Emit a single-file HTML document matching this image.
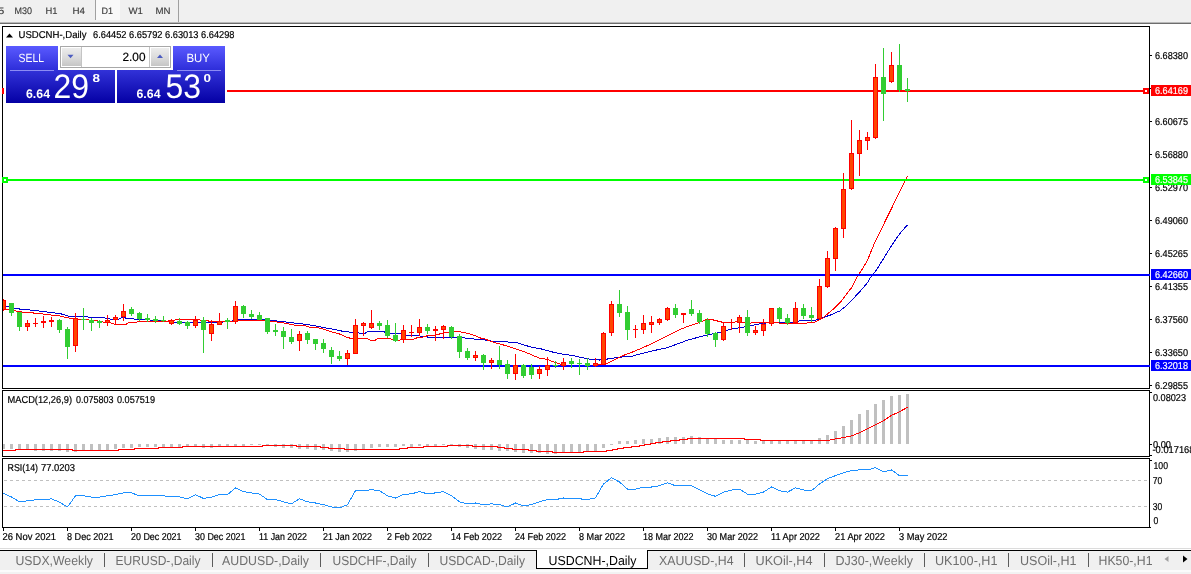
<!DOCTYPE html>
<html lang="en"><head><meta charset="utf-8"><title>USDCNH-,Daily</title>
<style>
html,body{margin:0;padding:0;background:#fff;overflow:hidden}
svg{display:block}
text{font-family:"Liberation Sans",sans-serif;font-size:10px;fill:#000;stroke:#000;stroke-width:0.2px;text-rendering:geometricPrecision}
.tb{fill:#3c3c3c;stroke:#3c3c3c;stroke-width:0.15px;font-size:9.5px}
.tab{font-size:13px;fill:#6e6e6e;stroke:none}
.w{fill:#fff;stroke:#fff}
</style></head><body>
<svg width="1191" height="574" viewBox="0 0 1191 574">
<defs><linearGradient id="gTab" x1="0" y1="0" x2="0" y2="1"><stop offset="0" stop-color="#5a5aff"/><stop offset="1" stop-color="#2c2cd8"/></linearGradient><linearGradient id="gPan" x1="0" y1="0" x2="0" y2="1"><stop offset="0" stop-color="#3232d8"/><stop offset="1" stop-color="#0400a4"/></linearGradient><linearGradient id="gBtn" x1="0" y1="0" x2="0" y2="1"><stop offset="0" stop-color="#ececec"/><stop offset="0.5" stop-color="#dcdcdc"/><stop offset="1" stop-color="#c6c6c6"/></linearGradient><clipPath id="cm"><rect x="3" y="27" width="1146" height="361"/></clipPath></defs>
<rect x="0" y="0" width="1191" height="574" fill="#fff"/>
<g shape-rendering="crispEdges">
<rect x="0" y="0" width="1191" height="22" fill="#f0f0f0"/>
<rect x="0" y="22" width="1191" height="1" fill="#b9b9b9"/>
<rect x="0" y="23" width="1191" height="1" fill="#6d6d6d"/>
<rect x="96" y="0" width="24" height="20" fill="#f9f9f9"/>
<rect x="95" y="0" width="1" height="20" fill="#a0a0a0"/>
<rect x="178" y="0" width="1" height="22" fill="#a0a0a0"/>
</g>
<text x="-1.8" y="14" class="tb" textLength="6" lengthAdjust="spacingAndGlyphs">5</text>
<text x="14.5" y="14" class="tb" textLength="17.5" lengthAdjust="spacingAndGlyphs">M30</text>
<text x="45.5" y="14" class="tb" textLength="12" lengthAdjust="spacingAndGlyphs">H1</text>
<text x="72.5" y="14" class="tb" textLength="12.5" lengthAdjust="spacingAndGlyphs">H4</text>
<text x="101.5" y="14" class="tb" textLength="11.5" lengthAdjust="spacingAndGlyphs">D1</text>
<text x="128.5" y="14" class="tb" textLength="14.5" lengthAdjust="spacingAndGlyphs">W1</text>
<text x="155.5" y="14" class="tb" textLength="15" lengthAdjust="spacingAndGlyphs">MN</text>
<g shape-rendering="crispEdges">
<rect x="2" y="26" width="1148" height="1" fill="#000"/>
<rect x="2" y="388" width="1148" height="1" fill="#000"/>
<rect x="2" y="26" width="1" height="363" fill="#000"/>
<rect x="1149" y="26" width="1" height="363" fill="#000"/>
<rect x="2" y="390" width="1148" height="1" fill="#000"/>
<rect x="2" y="456" width="1148" height="1" fill="#000"/>
<rect x="2" y="390" width="1" height="67" fill="#000"/>
<rect x="1149" y="390" width="1" height="67" fill="#000"/>
<rect x="2" y="458" width="1148" height="1" fill="#000"/>
<rect x="2" y="527" width="1148" height="1" fill="#000"/>
<rect x="2" y="458" width="1" height="70" fill="#000"/>
<rect x="1149" y="458" width="1" height="70" fill="#000"/>
<rect x="1150" y="55" width="2" height="1" fill="#000"/>
<rect x="1150" y="88" width="2" height="1" fill="#000"/>
<rect x="1150" y="121" width="2" height="1" fill="#000"/>
<rect x="1150" y="154" width="2" height="1" fill="#000"/>
<rect x="1150" y="187" width="2" height="1" fill="#000"/>
<rect x="1150" y="220" width="2" height="1" fill="#000"/>
<rect x="1150" y="253" width="2" height="1" fill="#000"/>
<rect x="1150" y="286" width="2" height="1" fill="#000"/>
<rect x="1150" y="319" width="2" height="1" fill="#000"/>
<rect x="1150" y="352" width="2" height="1" fill="#000"/>
<rect x="1150" y="385" width="2" height="1" fill="#000"/>
<rect x="1150" y="392" width="2" height="1" fill="#000"/>
<rect x="1150" y="444" width="2" height="1" fill="#000"/>
<rect x="1150" y="455" width="2" height="1" fill="#000"/>
<rect x="1150" y="460" width="2" height="1" fill="#000"/>
<rect x="1150" y="527" width="1" height="1" fill="#000"/>
<rect x="3" y="528" width="1" height="3" fill="#000"/>
<rect x="67" y="528" width="1" height="3" fill="#000"/>
<rect x="131" y="528" width="1" height="3" fill="#000"/>
<rect x="195" y="528" width="1" height="3" fill="#000"/>
<rect x="259" y="528" width="1" height="3" fill="#000"/>
<rect x="323" y="528" width="1" height="3" fill="#000"/>
<rect x="387" y="528" width="1" height="3" fill="#000"/>
<rect x="451" y="528" width="1" height="3" fill="#000"/>
<rect x="515" y="528" width="1" height="3" fill="#000"/>
<rect x="579" y="528" width="1" height="3" fill="#000"/>
<rect x="643" y="528" width="1" height="3" fill="#000"/>
<rect x="707" y="528" width="1" height="3" fill="#000"/>
<rect x="771" y="528" width="1" height="3" fill="#000"/>
<rect x="835" y="528" width="1" height="3" fill="#000"/>
<rect x="899" y="528" width="1" height="3" fill="#000"/>
</g>
<g shape-rendering="crispEdges" clip-path="url(#cm)">
<polyline fill="none" stroke="#0000d0" stroke-width="1" points="3.5,305.5 11.5,307.5 20.5,309.2 28.5,309.9 36.5,310.7 44.5,311.7 52.5,312.7 60.5,313.7 68.0,316.0 75.5,316.7 87.5,317.0 104.0,317.9 110.5,319.1 118.5,319.1 122.5,317.3 127.5,318.5 135.0,319.1 145.0,319.8 159.5,320.4 166.1,321.0 176.1,322.6 184.5,322.9 197.5,322.6 203.5,323.1 222.5,322.2 225.5,321.6 232.5,321.0 237.5,319.7 265.1,319.7 270.1,320.4 280.0,321.3 287.5,322.2 294.9,323.1 303.5,324.1 312.5,325.3 319.8,326.8 328.5,328.4 337.2,330.0 343.5,331.5 348.5,332.0 352.5,332.1 359.1,333.0 365.5,333.0 367.5,331.8 384.0,331.8 387.5,333.6 400.1,333.9 407.5,335.5 422.5,336.1 427.5,337.0 462.3,337.0 464.5,338.0 472.2,338.8 480.5,339.8 486.5,340.1 492.9,341.3 504.1,341.3 509.1,342.3 516.5,342.3 524.0,345.1 532.5,347.3 542.5,349.2 552.5,352.0 562.5,354.1 573.5,355.7 583.5,357.9 592.5,359.7 599.5,360.0 604.5,359.5 612.5,358.2 619.5,357.2 628.5,356.6 631.5,356.3 650.2,351.4 667.5,347.6 687.5,340.2 703.5,335.8 718.5,332.7 732.2,329.0 743.5,327.1 748.5,325.9 752.9,325.2 762.9,323.3 775.3,322.1 781.5,322.9 790.2,322.7 800.1,320.8 815.1,320.2 822.5,317.7 830.0,315.2 839.9,310.9 846.1,305.9 852.3,299.7 859.8,291.6 867.3,282.9 871.0,276.7 875.3,271.7 882.5,260.2 892.5,244.1 899.9,233.5 907.5,224.8"/>
<polyline fill="none" stroke="#ff0000" stroke-width="1" points="3.5,308.7 11.5,310.2 20.5,311.9 28.5,312.7 36.5,313.2 44.5,314.2 52.5,315.2 60.5,316.1 68.0,317.9 75.5,319.1 87.5,319.8 97.5,321.0 104.0,322.2 110.5,322.9 113.9,324.1 126.5,324.1 128.2,322.9 135.0,322.6 137.5,321.9 166.1,321.9 168.5,321.0 176.1,319.8 199.5,319.8 200.9,320.4 208.5,321.0 225.5,321.0 232.5,321.6 237.5,320.4 265.1,321.0 270.1,321.6 280.0,322.2 287.5,323.8 294.9,325.1 303.5,325.3 309.9,327.2 319.8,328.1 328.5,330.9 337.2,333.4 341.5,334.5 346.5,337.4 352.5,338.6 357.5,338.8 367.5,338.8 370.5,340.1 375.5,340.1 377.5,338.8 390.5,338.8 393.9,340.5 398.9,340.5 402.5,339.2 413.5,339.2 416.5,338.0 422.5,337.4 425.0,336.1 434.9,335.5 439.9,333.9 447.5,332.1 459.5,331.8 464.5,332.6 472.2,334.6 480.5,338.0 485.5,339.2 492.9,342.1 500.5,344.2 507.5,346.1 516.5,349.2 524.0,351.6 531.5,354.8 538.9,357.9 547.5,359.5 552.5,361.6 560.0,364.1 567.5,365.3 574.5,365.9 603.5,364.7 607.3,363.5 612.2,361.0 617.2,358.5 623.5,355.4 628.5,353.5 634.1,351.4 651.5,343.9 666.4,336.5 682.5,328.4 699.9,322.2 707.4,319.1 712.3,319.7 722.3,322.2 732.2,322.8 737.2,321.5 743.5,322.2 748.5,323.1 761.5,322.7 770.3,322.1 776.5,322.5 784.0,323.9 792.5,323.3 812.5,322.9 817.5,320.8 822.5,318.3 827.5,314.0 833.5,309.0 839.9,302.8 846.1,294.7 852.3,286.7 857.3,276.7 861.0,271.1 867.5,260.2 875.1,241.5 882.5,226.7 890.5,210.5 907.5,175.7"/>
<rect x="3" y="90" width="1147" height="2" fill="#ff0000"/>
<rect x="3" y="179" width="1147" height="2" fill="#00ff00"/>
<rect x="3" y="274" width="1148" height="2" fill="#0000ff"/>
<rect x="3" y="365" width="1148" height="2" fill="#0000ff"/>
<rect x="3" y="299" width="1" height="12" fill="#ff0000"/>
<rect x="1" y="300" width="5" height="10" fill="#ff0000"/>
<rect x="2" y="301" width="3" height="8" fill="#ff4500"/>
<rect x="11" y="303" width="1" height="13" fill="#32cd32"/>
<rect x="9" y="303" width="5" height="10" fill="#32cd32"/>
<rect x="19" y="312" width="1" height="19" fill="#32cd32"/>
<rect x="17" y="312" width="5" height="15" fill="#32cd32"/>
<rect x="27" y="320" width="1" height="11" fill="#ff0000"/>
<rect x="25" y="323" width="5" height="4" fill="#ff0000"/>
<rect x="26" y="324" width="3" height="2" fill="#ff4500"/>
<rect x="35" y="318" width="1" height="9" fill="#ff0000"/>
<rect x="33" y="323" width="5" height="1" fill="#ff0000"/>
<rect x="43" y="316" width="1" height="12" fill="#ff0000"/>
<rect x="41" y="321" width="5" height="2" fill="#ff0000"/>
<rect x="51" y="317" width="1" height="10" fill="#ff0000"/>
<rect x="49" y="320" width="5" height="2" fill="#ff0000"/>
<rect x="59" y="319" width="1" height="14" fill="#32cd32"/>
<rect x="57" y="320" width="5" height="10" fill="#32cd32"/>
<rect x="67" y="327" width="1" height="32" fill="#32cd32"/>
<rect x="65" y="329" width="5" height="18" fill="#32cd32"/>
<rect x="75" y="313" width="1" height="39" fill="#ff0000"/>
<rect x="73" y="318" width="5" height="28" fill="#ff0000"/>
<rect x="74" y="319" width="3" height="26" fill="#ff4500"/>
<rect x="83" y="308" width="1" height="22" fill="#32cd32"/>
<rect x="81" y="319" width="5" height="1" fill="#32cd32"/>
<rect x="91" y="318" width="1" height="13" fill="#32cd32"/>
<rect x="89" y="320" width="5" height="3" fill="#32cd32"/>
<rect x="99" y="320" width="1" height="8" fill="#32cd32"/>
<rect x="97" y="321" width="5" height="2" fill="#32cd32"/>
<rect x="107" y="315" width="1" height="11" fill="#ff0000"/>
<rect x="105" y="320" width="5" height="3" fill="#ff0000"/>
<rect x="106" y="321" width="3" height="1" fill="#ff4500"/>
<rect x="115" y="315" width="1" height="10" fill="#ff0000"/>
<rect x="113" y="317" width="5" height="3" fill="#ff0000"/>
<rect x="114" y="318" width="3" height="1" fill="#ff4500"/>
<rect x="123" y="304" width="1" height="17" fill="#ff0000"/>
<rect x="121" y="311" width="5" height="6" fill="#ff0000"/>
<rect x="122" y="312" width="3" height="4" fill="#ff4500"/>
<rect x="131" y="307" width="1" height="9" fill="#32cd32"/>
<rect x="129" y="309" width="5" height="5" fill="#32cd32"/>
<rect x="139" y="312" width="1" height="9" fill="#32cd32"/>
<rect x="137" y="313" width="5" height="6" fill="#32cd32"/>
<rect x="147" y="314" width="1" height="8" fill="#32cd32"/>
<rect x="145" y="318" width="5" height="2" fill="#32cd32"/>
<rect x="155" y="316" width="1" height="7" fill="#32cd32"/>
<rect x="153" y="319" width="5" height="2" fill="#32cd32"/>
<rect x="163" y="316" width="1" height="6" fill="#32cd32"/>
<rect x="161" y="320" width="5" height="1" fill="#32cd32"/>
<rect x="171" y="319" width="1" height="6" fill="#ff0000"/>
<rect x="169" y="320" width="5" height="4" fill="#ff0000"/>
<rect x="170" y="321" width="3" height="2" fill="#ff4500"/>
<rect x="179" y="318" width="1" height="7" fill="#32cd32"/>
<rect x="177" y="321" width="5" height="3" fill="#32cd32"/>
<rect x="187" y="321" width="1" height="8" fill="#32cd32"/>
<rect x="185" y="322" width="5" height="4" fill="#32cd32"/>
<rect x="195" y="316" width="1" height="12" fill="#ff0000"/>
<rect x="193" y="320" width="5" height="6" fill="#ff0000"/>
<rect x="194" y="321" width="3" height="4" fill="#ff4500"/>
<rect x="203" y="317" width="1" height="36" fill="#32cd32"/>
<rect x="201" y="320" width="5" height="10" fill="#32cd32"/>
<rect x="211" y="320" width="1" height="21" fill="#ff0000"/>
<rect x="209" y="324" width="5" height="10" fill="#ff0000"/>
<rect x="210" y="325" width="3" height="8" fill="#ff4500"/>
<rect x="219" y="313" width="1" height="12" fill="#ff0000"/>
<rect x="217" y="321" width="5" height="4" fill="#ff0000"/>
<rect x="218" y="322" width="3" height="2" fill="#ff4500"/>
<rect x="227" y="318" width="1" height="11" fill="#32cd32"/>
<rect x="225" y="320" width="5" height="2" fill="#32cd32"/>
<rect x="235" y="301" width="1" height="23" fill="#ff0000"/>
<rect x="233" y="306" width="5" height="16" fill="#ff0000"/>
<rect x="234" y="307" width="3" height="14" fill="#ff4500"/>
<rect x="243" y="305" width="1" height="13" fill="#32cd32"/>
<rect x="241" y="306" width="5" height="8" fill="#32cd32"/>
<rect x="251" y="310" width="1" height="9" fill="#32cd32"/>
<rect x="249" y="314" width="5" height="3" fill="#32cd32"/>
<rect x="259" y="312" width="1" height="8" fill="#32cd32"/>
<rect x="257" y="315" width="5" height="5" fill="#32cd32"/>
<rect x="267" y="318" width="1" height="16" fill="#32cd32"/>
<rect x="265" y="318" width="5" height="14" fill="#32cd32"/>
<rect x="275" y="324" width="1" height="12" fill="#32cd32"/>
<rect x="273" y="330" width="5" height="2" fill="#32cd32"/>
<rect x="283" y="327" width="1" height="22" fill="#32cd32"/>
<rect x="281" y="331" width="5" height="6" fill="#32cd32"/>
<rect x="291" y="329" width="1" height="15" fill="#32cd32"/>
<rect x="289" y="337" width="5" height="5" fill="#32cd32"/>
<rect x="299" y="331" width="1" height="20" fill="#ff0000"/>
<rect x="297" y="334" width="5" height="7" fill="#ff0000"/>
<rect x="298" y="335" width="3" height="5" fill="#ff4500"/>
<rect x="307" y="331" width="1" height="13" fill="#32cd32"/>
<rect x="305" y="333" width="5" height="7" fill="#32cd32"/>
<rect x="315" y="339" width="1" height="11" fill="#32cd32"/>
<rect x="313" y="339" width="5" height="5" fill="#32cd32"/>
<rect x="323" y="339" width="1" height="14" fill="#32cd32"/>
<rect x="321" y="343" width="5" height="6" fill="#32cd32"/>
<rect x="331" y="347" width="1" height="17" fill="#32cd32"/>
<rect x="329" y="350" width="5" height="7" fill="#32cd32"/>
<rect x="339" y="351" width="1" height="10" fill="#32cd32"/>
<rect x="337" y="356" width="5" height="3" fill="#32cd32"/>
<rect x="347" y="350" width="1" height="15" fill="#ff0000"/>
<rect x="345" y="353" width="5" height="6" fill="#ff0000"/>
<rect x="346" y="354" width="3" height="4" fill="#ff4500"/>
<rect x="355" y="319" width="1" height="35" fill="#ff0000"/>
<rect x="353" y="325" width="5" height="29" fill="#ff0000"/>
<rect x="354" y="326" width="3" height="27" fill="#ff4500"/>
<rect x="363" y="322" width="1" height="14" fill="#ff0000"/>
<rect x="361" y="323" width="5" height="3" fill="#ff0000"/>
<rect x="362" y="324" width="3" height="1" fill="#ff4500"/>
<rect x="371" y="310" width="1" height="19" fill="#ff0000"/>
<rect x="369" y="323" width="5" height="5" fill="#ff0000"/>
<rect x="370" y="324" width="3" height="3" fill="#ff4500"/>
<rect x="379" y="321" width="1" height="9" fill="#32cd32"/>
<rect x="377" y="323" width="5" height="3" fill="#32cd32"/>
<rect x="387" y="320" width="1" height="18" fill="#32cd32"/>
<rect x="385" y="325" width="5" height="11" fill="#32cd32"/>
<rect x="395" y="323" width="1" height="19" fill="#32cd32"/>
<rect x="393" y="335" width="5" height="6" fill="#32cd32"/>
<rect x="403" y="325" width="1" height="18" fill="#ff0000"/>
<rect x="401" y="330" width="5" height="10" fill="#ff0000"/>
<rect x="402" y="331" width="3" height="8" fill="#ff4500"/>
<rect x="411" y="325" width="1" height="12" fill="#ff0000"/>
<rect x="409" y="332" width="5" height="1" fill="#ff0000"/>
<rect x="419" y="319" width="1" height="17" fill="#ff0000"/>
<rect x="417" y="327" width="5" height="6" fill="#ff0000"/>
<rect x="418" y="328" width="3" height="4" fill="#ff4500"/>
<rect x="427" y="324" width="1" height="10" fill="#32cd32"/>
<rect x="425" y="327" width="5" height="4" fill="#32cd32"/>
<rect x="435" y="326" width="1" height="15" fill="#ff0000"/>
<rect x="433" y="329" width="5" height="2" fill="#ff0000"/>
<rect x="443" y="325" width="1" height="14" fill="#ff0000"/>
<rect x="441" y="326" width="5" height="4" fill="#ff0000"/>
<rect x="442" y="327" width="3" height="2" fill="#ff4500"/>
<rect x="451" y="326" width="1" height="13" fill="#32cd32"/>
<rect x="449" y="327" width="5" height="10" fill="#32cd32"/>
<rect x="459" y="334" width="1" height="24" fill="#32cd32"/>
<rect x="457" y="336" width="5" height="16" fill="#32cd32"/>
<rect x="467" y="348" width="1" height="12" fill="#32cd32"/>
<rect x="465" y="351" width="5" height="7" fill="#32cd32"/>
<rect x="475" y="351" width="1" height="10" fill="#ff0000"/>
<rect x="473" y="355" width="5" height="3" fill="#ff0000"/>
<rect x="474" y="356" width="3" height="1" fill="#ff4500"/>
<rect x="483" y="354" width="1" height="16" fill="#32cd32"/>
<rect x="481" y="355" width="5" height="8" fill="#32cd32"/>
<rect x="491" y="358" width="1" height="11" fill="#ff0000"/>
<rect x="489" y="360" width="5" height="3" fill="#ff0000"/>
<rect x="490" y="361" width="3" height="1" fill="#ff4500"/>
<rect x="499" y="346" width="1" height="23" fill="#32cd32"/>
<rect x="497" y="360" width="5" height="5" fill="#32cd32"/>
<rect x="507" y="360" width="1" height="19" fill="#32cd32"/>
<rect x="505" y="364" width="5" height="10" fill="#32cd32"/>
<rect x="515" y="354" width="1" height="26" fill="#ff0000"/>
<rect x="513" y="365" width="5" height="9" fill="#ff0000"/>
<rect x="514" y="366" width="3" height="7" fill="#ff4500"/>
<rect x="523" y="364" width="1" height="14" fill="#32cd32"/>
<rect x="521" y="365" width="5" height="11" fill="#32cd32"/>
<rect x="531" y="364" width="1" height="15" fill="#32cd32"/>
<rect x="529" y="367" width="5" height="8" fill="#32cd32"/>
<rect x="539" y="366" width="1" height="13" fill="#ff0000"/>
<rect x="537" y="369" width="5" height="5" fill="#ff0000"/>
<rect x="538" y="370" width="3" height="3" fill="#ff4500"/>
<rect x="547" y="357" width="1" height="19" fill="#ff0000"/>
<rect x="545" y="365" width="5" height="5" fill="#ff0000"/>
<rect x="546" y="366" width="3" height="3" fill="#ff4500"/>
<rect x="555" y="361" width="1" height="7" fill="#32cd32"/>
<rect x="553" y="365" width="5" height="1" fill="#32cd32"/>
<rect x="563" y="358" width="1" height="12" fill="#ff0000"/>
<rect x="561" y="362" width="5" height="4" fill="#ff0000"/>
<rect x="562" y="363" width="3" height="2" fill="#ff4500"/>
<rect x="571" y="358" width="1" height="10" fill="#32cd32"/>
<rect x="569" y="361" width="5" height="3" fill="#32cd32"/>
<rect x="579" y="359" width="1" height="16" fill="#32cd32"/>
<rect x="577" y="363" width="5" height="1" fill="#32cd32"/>
<rect x="587" y="358" width="1" height="12" fill="#32cd32"/>
<rect x="585" y="363" width="5" height="3" fill="#32cd32"/>
<rect x="595" y="358" width="1" height="9" fill="#ff0000"/>
<rect x="593" y="363" width="5" height="3" fill="#ff0000"/>
<rect x="594" y="364" width="3" height="1" fill="#ff4500"/>
<rect x="603" y="332" width="1" height="33" fill="#ff0000"/>
<rect x="601" y="333" width="5" height="32" fill="#ff0000"/>
<rect x="602" y="334" width="3" height="30" fill="#ff4500"/>
<rect x="611" y="301" width="1" height="35" fill="#ff0000"/>
<rect x="609" y="304" width="5" height="29" fill="#ff0000"/>
<rect x="610" y="305" width="3" height="27" fill="#ff4500"/>
<rect x="619" y="290" width="1" height="27" fill="#32cd32"/>
<rect x="617" y="304" width="5" height="9" fill="#32cd32"/>
<rect x="627" y="306" width="1" height="34" fill="#32cd32"/>
<rect x="625" y="312" width="5" height="18" fill="#32cd32"/>
<rect x="635" y="325" width="1" height="13" fill="#ff0000"/>
<rect x="633" y="329" width="5" height="1" fill="#ff0000"/>
<rect x="643" y="315" width="1" height="19" fill="#ff0000"/>
<rect x="641" y="323" width="5" height="7" fill="#ff0000"/>
<rect x="642" y="324" width="3" height="5" fill="#ff4500"/>
<rect x="651" y="316" width="1" height="17" fill="#ff0000"/>
<rect x="649" y="322" width="5" height="3" fill="#ff0000"/>
<rect x="650" y="323" width="3" height="1" fill="#ff4500"/>
<rect x="659" y="318" width="1" height="7" fill="#ff0000"/>
<rect x="657" y="319" width="5" height="4" fill="#ff0000"/>
<rect x="658" y="320" width="3" height="2" fill="#ff4500"/>
<rect x="667" y="307" width="1" height="14" fill="#ff0000"/>
<rect x="665" y="308" width="5" height="12" fill="#ff0000"/>
<rect x="666" y="309" width="3" height="10" fill="#ff4500"/>
<rect x="675" y="304" width="1" height="14" fill="#32cd32"/>
<rect x="673" y="308" width="5" height="7" fill="#32cd32"/>
<rect x="683" y="313" width="1" height="10" fill="#ff0000"/>
<rect x="681" y="313" width="5" height="2" fill="#ff0000"/>
<rect x="691" y="300" width="1" height="16" fill="#32cd32"/>
<rect x="689" y="309" width="5" height="5" fill="#32cd32"/>
<rect x="699" y="310" width="1" height="14" fill="#32cd32"/>
<rect x="697" y="313" width="5" height="9" fill="#32cd32"/>
<rect x="707" y="318" width="1" height="19" fill="#32cd32"/>
<rect x="705" y="320" width="5" height="14" fill="#32cd32"/>
<rect x="715" y="332" width="1" height="15" fill="#32cd32"/>
<rect x="713" y="333" width="5" height="7" fill="#32cd32"/>
<rect x="723" y="322" width="1" height="19" fill="#ff0000"/>
<rect x="721" y="326" width="5" height="14" fill="#ff0000"/>
<rect x="722" y="327" width="3" height="12" fill="#ff4500"/>
<rect x="731" y="319" width="1" height="11" fill="#ff0000"/>
<rect x="729" y="322" width="5" height="1" fill="#ff0000"/>
<rect x="739" y="315" width="1" height="18" fill="#ff0000"/>
<rect x="737" y="317" width="5" height="6" fill="#ff0000"/>
<rect x="738" y="318" width="3" height="4" fill="#ff4500"/>
<rect x="747" y="310" width="1" height="26" fill="#32cd32"/>
<rect x="745" y="317" width="5" height="16" fill="#32cd32"/>
<rect x="755" y="326" width="1" height="9" fill="#ff0000"/>
<rect x="753" y="330" width="5" height="3" fill="#ff0000"/>
<rect x="754" y="331" width="3" height="1" fill="#ff4500"/>
<rect x="763" y="319" width="1" height="17" fill="#ff0000"/>
<rect x="761" y="324" width="5" height="7" fill="#ff0000"/>
<rect x="762" y="325" width="3" height="5" fill="#ff4500"/>
<rect x="771" y="308" width="1" height="18" fill="#ff0000"/>
<rect x="769" y="308" width="5" height="16" fill="#ff0000"/>
<rect x="770" y="309" width="3" height="14" fill="#ff4500"/>
<rect x="779" y="307" width="1" height="15" fill="#32cd32"/>
<rect x="777" y="308" width="5" height="11" fill="#32cd32"/>
<rect x="787" y="314" width="1" height="11" fill="#32cd32"/>
<rect x="785" y="318" width="5" height="5" fill="#32cd32"/>
<rect x="795" y="302" width="1" height="22" fill="#ff0000"/>
<rect x="793" y="308" width="5" height="15" fill="#ff0000"/>
<rect x="794" y="309" width="3" height="13" fill="#ff4500"/>
<rect x="803" y="304" width="1" height="15" fill="#32cd32"/>
<rect x="801" y="308" width="5" height="8" fill="#32cd32"/>
<rect x="811" y="307" width="1" height="15" fill="#32cd32"/>
<rect x="809" y="315" width="5" height="3" fill="#32cd32"/>
<rect x="819" y="279" width="1" height="40" fill="#ff0000"/>
<rect x="817" y="286" width="5" height="33" fill="#ff0000"/>
<rect x="818" y="287" width="3" height="31" fill="#ff4500"/>
<rect x="827" y="251" width="1" height="37" fill="#ff0000"/>
<rect x="825" y="258" width="5" height="29" fill="#ff0000"/>
<rect x="826" y="259" width="3" height="27" fill="#ff4500"/>
<rect x="835" y="227" width="1" height="44" fill="#ff0000"/>
<rect x="833" y="228" width="5" height="31" fill="#ff0000"/>
<rect x="834" y="229" width="3" height="29" fill="#ff4500"/>
<rect x="843" y="173" width="1" height="65" fill="#ff0000"/>
<rect x="841" y="189" width="5" height="40" fill="#ff0000"/>
<rect x="842" y="190" width="3" height="38" fill="#ff4500"/>
<rect x="851" y="120" width="1" height="70" fill="#ff0000"/>
<rect x="849" y="153" width="5" height="36" fill="#ff0000"/>
<rect x="850" y="154" width="3" height="34" fill="#ff4500"/>
<rect x="859" y="130" width="1" height="46" fill="#ff0000"/>
<rect x="857" y="140" width="5" height="14" fill="#ff0000"/>
<rect x="858" y="141" width="3" height="12" fill="#ff4500"/>
<rect x="867" y="132" width="1" height="18" fill="#ff0000"/>
<rect x="865" y="137" width="5" height="4" fill="#ff0000"/>
<rect x="866" y="138" width="3" height="2" fill="#ff4500"/>
<rect x="875" y="64" width="1" height="75" fill="#ff0000"/>
<rect x="873" y="77" width="5" height="61" fill="#ff0000"/>
<rect x="874" y="78" width="3" height="59" fill="#ff4500"/>
<rect x="883" y="48" width="1" height="73" fill="#32cd32"/>
<rect x="881" y="77" width="5" height="17" fill="#32cd32"/>
<rect x="891" y="52" width="1" height="31" fill="#ff0000"/>
<rect x="889" y="65" width="5" height="17" fill="#ff0000"/>
<rect x="890" y="66" width="3" height="15" fill="#ff4500"/>
<rect x="899" y="44" width="1" height="48" fill="#32cd32"/>
<rect x="897" y="65" width="5" height="25" fill="#32cd32"/>
<rect x="907" y="78" width="1" height="24" fill="#32cd32"/>
<rect x="905" y="89" width="5" height="2" fill="#32cd32"/>
</g>
<g shape-rendering="crispEdges">
<rect x="1149" y="274" width="1" height="2" fill="#0000ff"/>
<rect x="1149" y="365" width="1" height="2" fill="#0000ff"/>
<rect x="2" y="88" width="6" height="6" fill="#ff0000"/>
<rect x="4" y="90" width="2" height="2" fill="#fff"/>
<rect x="1143" y="88" width="6" height="6" fill="#ff0000"/>
<rect x="1145" y="90" width="2" height="2" fill="#fff"/>
<rect x="2" y="177" width="6" height="6" fill="#00ff00"/>
<rect x="4" y="179" width="2" height="2" fill="#fff"/>
<rect x="1143" y="177" width="6" height="6" fill="#00ff00"/>
<rect x="1145" y="179" width="2" height="2" fill="#fff"/>
<rect x="1151" y="85" width="40" height="11" fill="#ff0000"/>
<rect x="1151" y="174" width="40" height="11" fill="#00ff00"/>
<rect x="1151" y="269" width="40" height="11" fill="#0000ff"/>
<rect x="1151" y="360" width="40" height="11" fill="#0000ff"/>
</g>
<text x="1155" y="191" textLength="33" lengthAdjust="spacingAndGlyphs">6.52970</text>
<text x="1155" y="290" textLength="33" lengthAdjust="spacingAndGlyphs">6.41355</text>
<g shape-rendering="crispEdges">
<rect x="1151" y="174" width="40" height="11" fill="#00ff00"/>
<rect x="1151" y="269" width="40" height="11" fill="#0000ff"/>
</g>
<text x="1155" y="59" textLength="33" lengthAdjust="spacingAndGlyphs">6.68380</text>
<text x="1155" y="125" textLength="33" lengthAdjust="spacingAndGlyphs">6.60675</text>
<text x="1155" y="158" textLength="33" lengthAdjust="spacingAndGlyphs">6.56880</text>
<text x="1155" y="224" textLength="33" lengthAdjust="spacingAndGlyphs">6.49060</text>
<text x="1155" y="257" textLength="33" lengthAdjust="spacingAndGlyphs">6.45265</text>
<text x="1155" y="323" textLength="33" lengthAdjust="spacingAndGlyphs">6.37560</text>
<text x="1155" y="356" textLength="33" lengthAdjust="spacingAndGlyphs">6.33650</text>
<text x="1155" y="389" textLength="33" lengthAdjust="spacingAndGlyphs">6.29855</text>
<text x="1155" y="94" class="w" textLength="33" lengthAdjust="spacingAndGlyphs">6.64169</text>
<text x="1155" y="183" class="w" textLength="33" lengthAdjust="spacingAndGlyphs">6.53845</text>
<text x="1155" y="278" class="w" textLength="33" lengthAdjust="spacingAndGlyphs">6.42660</text>
<text x="1155" y="369" class="w" textLength="33" lengthAdjust="spacingAndGlyphs">6.32018</text>
<g shape-rendering="crispEdges">
<rect x="4" y="44" width="223" height="60" fill="#fff"/>
<rect x="6" y="46" width="52" height="25" fill="url(#gTab)"/>
<rect x="173" y="46" width="52" height="25" fill="url(#gTab)"/>
<rect x="6" y="70" width="109" height="33" fill="url(#gPan)"/>
<rect x="117" y="70" width="108" height="33" fill="url(#gPan)"/>
<rect x="10" y="70" width="44" height="1" fill="#8c8cf4"/>
<rect x="177" y="70" width="44" height="1" fill="#8c8cf4"/>
<rect x="60" y="46" width="111" height="22" fill="#a8a8a8"/>
<rect x="61" y="47" width="109" height="20" fill="#fff"/>
<rect x="62" y="48" width="19" height="18" fill="url(#gBtn)"/>
<rect x="151" y="48" width="18" height="18" fill="url(#gBtn)"/>
<rect x="81" y="47" width="1" height="20" fill="#c4c4c4"/>
<rect x="149" y="47" width="1" height="20" fill="#c4c4c4"/>
</g>
<polygon points="67.5,54.7 73.5,54.7 70.5,58.2" fill="#4c5cc0"/><polygon points="157,58 163,58 160,54.5" fill="#4c5cc0"/>
<text x="18.5" y="62" class="w" textLength="25.5" lengthAdjust="spacingAndGlyphs" style="font-size:12px;stroke:none">SELL</text>
<text x="186.5" y="62" class="w" textLength="23.5" lengthAdjust="spacingAndGlyphs" style="font-size:12px;stroke:none">BUY</text>
<text x="122.5" y="61" textLength="23" lengthAdjust="spacingAndGlyphs" style="font-size:12px">2.00</text>
<text x="26" y="98" class="w" textLength="24" lengthAdjust="spacingAndGlyphs" style="font-size:12.5px;font-weight:bold;stroke:none">6.64</text>
<text x="136.5" y="98" class="w" textLength="24" lengthAdjust="spacingAndGlyphs" style="font-size:12.5px;font-weight:bold;stroke:none">6.64</text>
<text x="53.5" y="98" class="w" textLength="35.5" lengthAdjust="spacingAndGlyphs" style="font-size:34px;stroke:none">29</text>
<text x="165.5" y="98" class="w" textLength="35.5" lengthAdjust="spacingAndGlyphs" style="font-size:34px;stroke:none">53</text>
<text x="92.5" y="82" class="w" textLength="7.5" lengthAdjust="spacingAndGlyphs" style="font-size:11.5px;font-weight:bold;stroke:none">8</text>
<text x="203.5" y="82" class="w" textLength="7.5" lengthAdjust="spacingAndGlyphs" style="font-size:11.5px;font-weight:bold;stroke:none">0</text>
<polygon points="6,37.5 13,37.5 9.5,33.5" fill="#000"/>
<text x="18.5" y="38" textLength="68" lengthAdjust="spacingAndGlyphs">USDCNH-,Daily</text>
<text x="93" y="38" textLength="33.5" lengthAdjust="spacingAndGlyphs">6.64452</text>
<text x="129" y="38" textLength="33.5" lengthAdjust="spacingAndGlyphs">6.65792</text>
<text x="165" y="38" textLength="33.5" lengthAdjust="spacingAndGlyphs">6.63013</text>
<text x="201" y="38" textLength="33.5" lengthAdjust="spacingAndGlyphs">6.64298</text>
<g shape-rendering="crispEdges">
<rect x="3" y="444" width="2" height="5" fill="#c0c0c0"/>
<rect x="10" y="444" width="3" height="5" fill="#c0c0c0"/>
<rect x="18" y="444" width="3" height="6" fill="#c0c0c0"/>
<rect x="26" y="444" width="3" height="6" fill="#c0c0c0"/>
<rect x="34" y="444" width="3" height="7" fill="#c0c0c0"/>
<rect x="42" y="444" width="3" height="7" fill="#c0c0c0"/>
<rect x="50" y="444" width="3" height="7" fill="#c0c0c0"/>
<rect x="58" y="444" width="3" height="7" fill="#c0c0c0"/>
<rect x="66" y="444" width="3" height="8" fill="#c0c0c0"/>
<rect x="74" y="444" width="3" height="8" fill="#c0c0c0"/>
<rect x="82" y="444" width="3" height="7" fill="#c0c0c0"/>
<rect x="90" y="444" width="3" height="7" fill="#c0c0c0"/>
<rect x="98" y="444" width="3" height="7" fill="#c0c0c0"/>
<rect x="106" y="444" width="3" height="6" fill="#c0c0c0"/>
<rect x="114" y="444" width="3" height="5" fill="#c0c0c0"/>
<rect x="122" y="444" width="3" height="4" fill="#c0c0c0"/>
<rect x="130" y="444" width="3" height="4" fill="#c0c0c0"/>
<rect x="138" y="444" width="3" height="3" fill="#c0c0c0"/>
<rect x="146" y="444" width="3" height="3" fill="#c0c0c0"/>
<rect x="154" y="444" width="3" height="3" fill="#c0c0c0"/>
<rect x="162" y="444" width="3" height="3" fill="#c0c0c0"/>
<rect x="170" y="444" width="3" height="3" fill="#c0c0c0"/>
<rect x="178" y="444" width="3" height="3" fill="#c0c0c0"/>
<rect x="186" y="444" width="3" height="2" fill="#c0c0c0"/>
<rect x="194" y="444" width="3" height="2" fill="#c0c0c0"/>
<rect x="202" y="444" width="3" height="4" fill="#c0c0c0"/>
<rect x="210" y="444" width="3" height="4" fill="#c0c0c0"/>
<rect x="218" y="444" width="3" height="3" fill="#c0c0c0"/>
<rect x="226" y="444" width="3" height="3" fill="#c0c0c0"/>
<rect x="234" y="444" width="3" height="2" fill="#c0c0c0"/>
<rect x="242" y="444" width="3" height="2" fill="#c0c0c0"/>
<rect x="250" y="444" width="3" height="1" fill="#c0c0c0"/>
<rect x="258" y="444" width="3" height="1" fill="#c0c0c0"/>
<rect x="266" y="444" width="3" height="2" fill="#c0c0c0"/>
<rect x="274" y="444" width="3" height="3" fill="#c0c0c0"/>
<rect x="282" y="444" width="3" height="4" fill="#c0c0c0"/>
<rect x="290" y="444" width="3" height="4" fill="#c0c0c0"/>
<rect x="298" y="444" width="3" height="5" fill="#c0c0c0"/>
<rect x="306" y="444" width="3" height="5" fill="#c0c0c0"/>
<rect x="314" y="444" width="3" height="6" fill="#c0c0c0"/>
<rect x="322" y="444" width="3" height="6" fill="#c0c0c0"/>
<rect x="330" y="444" width="3" height="7" fill="#c0c0c0"/>
<rect x="338" y="444" width="3" height="8" fill="#c0c0c0"/>
<rect x="346" y="444" width="3" height="8" fill="#c0c0c0"/>
<rect x="354" y="444" width="3" height="7" fill="#c0c0c0"/>
<rect x="362" y="444" width="3" height="6" fill="#c0c0c0"/>
<rect x="370" y="444" width="3" height="4" fill="#c0c0c0"/>
<rect x="378" y="444" width="3" height="3" fill="#c0c0c0"/>
<rect x="386" y="444" width="3" height="3" fill="#c0c0c0"/>
<rect x="394" y="444" width="3" height="3" fill="#c0c0c0"/>
<rect x="402" y="444" width="3" height="2" fill="#c0c0c0"/>
<rect x="410" y="444" width="3" height="3" fill="#c0c0c0"/>
<rect x="418" y="444" width="3" height="2" fill="#c0c0c0"/>
<rect x="426" y="444" width="3" height="2" fill="#c0c0c0"/>
<rect x="434" y="444" width="3" height="2" fill="#c0c0c0"/>
<rect x="442" y="444" width="3" height="1" fill="#c0c0c0"/>
<rect x="450" y="444" width="3" height="2" fill="#c0c0c0"/>
<rect x="458" y="444" width="3" height="3" fill="#c0c0c0"/>
<rect x="466" y="444" width="3" height="4" fill="#c0c0c0"/>
<rect x="474" y="444" width="3" height="5" fill="#c0c0c0"/>
<rect x="482" y="444" width="3" height="6" fill="#c0c0c0"/>
<rect x="490" y="444" width="3" height="6" fill="#c0c0c0"/>
<rect x="498" y="444" width="3" height="7" fill="#c0c0c0"/>
<rect x="506" y="444" width="3" height="7" fill="#c0c0c0"/>
<rect x="514" y="444" width="3" height="8" fill="#c0c0c0"/>
<rect x="522" y="444" width="3" height="9" fill="#c0c0c0"/>
<rect x="530" y="444" width="3" height="9" fill="#c0c0c0"/>
<rect x="538" y="444" width="3" height="9" fill="#c0c0c0"/>
<rect x="546" y="444" width="3" height="10" fill="#c0c0c0"/>
<rect x="554" y="444" width="3" height="10" fill="#c0c0c0"/>
<rect x="562" y="444" width="3" height="9" fill="#c0c0c0"/>
<rect x="570" y="444" width="3" height="8" fill="#c0c0c0"/>
<rect x="578" y="444" width="3" height="8" fill="#c0c0c0"/>
<rect x="586" y="444" width="3" height="7" fill="#c0c0c0"/>
<rect x="594" y="444" width="3" height="7" fill="#c0c0c0"/>
<rect x="602" y="444" width="3" height="4" fill="#c0c0c0"/>
<rect x="610" y="444" width="3" height="1" fill="#c0c0c0"/>
<rect x="618" y="441" width="3" height="3" fill="#c0c0c0"/>
<rect x="626" y="441" width="3" height="3" fill="#c0c0c0"/>
<rect x="634" y="440" width="3" height="4" fill="#c0c0c0"/>
<rect x="642" y="439" width="3" height="5" fill="#c0c0c0"/>
<rect x="650" y="439" width="3" height="5" fill="#c0c0c0"/>
<rect x="658" y="438" width="3" height="6" fill="#c0c0c0"/>
<rect x="666" y="437" width="3" height="7" fill="#c0c0c0"/>
<rect x="674" y="437" width="3" height="7" fill="#c0c0c0"/>
<rect x="682" y="437" width="3" height="7" fill="#c0c0c0"/>
<rect x="690" y="436" width="3" height="8" fill="#c0c0c0"/>
<rect x="698" y="437" width="3" height="7" fill="#c0c0c0"/>
<rect x="706" y="438" width="3" height="6" fill="#c0c0c0"/>
<rect x="714" y="439" width="3" height="5" fill="#c0c0c0"/>
<rect x="722" y="440" width="3" height="4" fill="#c0c0c0"/>
<rect x="730" y="440" width="3" height="4" fill="#c0c0c0"/>
<rect x="738" y="440" width="3" height="4" fill="#c0c0c0"/>
<rect x="746" y="440" width="3" height="4" fill="#c0c0c0"/>
<rect x="754" y="441" width="3" height="3" fill="#c0c0c0"/>
<rect x="762" y="441" width="3" height="3" fill="#c0c0c0"/>
<rect x="770" y="441" width="3" height="3" fill="#c0c0c0"/>
<rect x="778" y="441" width="3" height="3" fill="#c0c0c0"/>
<rect x="786" y="441" width="3" height="3" fill="#c0c0c0"/>
<rect x="794" y="441" width="3" height="3" fill="#c0c0c0"/>
<rect x="802" y="441" width="3" height="3" fill="#c0c0c0"/>
<rect x="810" y="441" width="3" height="3" fill="#c0c0c0"/>
<rect x="818" y="438" width="3" height="6" fill="#c0c0c0"/>
<rect x="826" y="435" width="3" height="9" fill="#c0c0c0"/>
<rect x="834" y="431" width="3" height="13" fill="#c0c0c0"/>
<rect x="842" y="426" width="3" height="18" fill="#c0c0c0"/>
<rect x="850" y="420" width="3" height="24" fill="#c0c0c0"/>
<rect x="858" y="414" width="3" height="30" fill="#c0c0c0"/>
<rect x="866" y="410" width="3" height="34" fill="#c0c0c0"/>
<rect x="874" y="404" width="3" height="40" fill="#c0c0c0"/>
<rect x="882" y="400" width="3" height="44" fill="#c0c0c0"/>
<rect x="890" y="396" width="3" height="48" fill="#c0c0c0"/>
<rect x="898" y="395" width="3" height="49" fill="#c0c0c0"/>
<rect x="906" y="394" width="3" height="50" fill="#c0c0c0"/>
<rect x="3" y="450" width="13" height="1" fill="#ff0000"/>
<rect x="15" y="449" width="58" height="1" fill="#ff0000"/>
<rect x="72" y="450" width="47" height="1" fill="#ff0000"/>
<rect x="118" y="449" width="17" height="1" fill="#ff0000"/>
<rect x="134" y="448" width="25" height="1" fill="#ff0000"/>
<rect x="158" y="447" width="25" height="1" fill="#ff0000"/>
<rect x="182" y="446" width="81" height="1" fill="#ff0000"/>
<rect x="262" y="445" width="35" height="1" fill="#ff0000"/>
<rect x="296" y="446" width="25" height="1" fill="#ff0000"/>
<rect x="320" y="447" width="9" height="1" fill="#ff0000"/>
<rect x="328" y="448" width="17" height="1" fill="#ff0000"/>
<rect x="344" y="449" width="56" height="1" fill="#ff0000"/>
<rect x="399" y="448" width="9" height="1" fill="#ff0000"/>
<rect x="407" y="447" width="17" height="1" fill="#ff0000"/>
<rect x="423" y="446" width="25" height="1" fill="#ff0000"/>
<rect x="447" y="445" width="26" height="1" fill="#ff0000"/>
<rect x="472" y="446" width="26" height="1" fill="#ff0000"/>
<rect x="497" y="447" width="8" height="1" fill="#ff0000"/>
<rect x="504" y="448" width="9" height="1" fill="#ff0000"/>
<rect x="512" y="449" width="17" height="1" fill="#ff0000"/>
<rect x="528" y="450" width="9" height="1" fill="#ff0000"/>
<rect x="536" y="451" width="17" height="1" fill="#ff0000"/>
<rect x="552" y="452" width="32" height="1" fill="#ff0000"/>
<rect x="583" y="451" width="24" height="1" fill="#ff0000"/>
<rect x="606" y="450" width="7" height="1" fill="#ff0000"/>
<rect x="612" y="449" width="6" height="1" fill="#ff0000"/>
<rect x="617" y="448" width="7" height="1" fill="#ff0000"/>
<rect x="623" y="447" width="9" height="1" fill="#ff0000"/>
<rect x="631" y="446" width="9" height="1" fill="#ff0000"/>
<rect x="639" y="445" width="6" height="1" fill="#ff0000"/>
<rect x="644" y="444" width="7" height="1" fill="#ff0000"/>
<rect x="650" y="443" width="6" height="1" fill="#ff0000"/>
<rect x="655" y="442" width="8" height="1" fill="#ff0000"/>
<rect x="662" y="441" width="9" height="1" fill="#ff0000"/>
<rect x="670" y="440" width="10" height="1" fill="#ff0000"/>
<rect x="679" y="439" width="9" height="1" fill="#ff0000"/>
<rect x="687" y="438" width="58" height="1" fill="#ff0000"/>
<rect x="744" y="439" width="17" height="1" fill="#ff0000"/>
<rect x="760" y="440" width="68" height="1" fill="#ff0000"/>
<polyline fill="none" stroke="#ff0000" stroke-width="1" points="827.5,440.5 835.5,438.9 843.5,437.5 851.5,435.9 859.5,432.8 867.5,428.8 875.5,424.8 883.5,420.7 891.5,415.4 899.5,411.7 907.5,407.3"/>
</g>
<text x="7.5" y="403" textLength="64.5" lengthAdjust="spacingAndGlyphs">MACD(12,26,9)</text>
<text x="76" y="403" textLength="37.5" lengthAdjust="spacingAndGlyphs">0.075803</text>
<text x="117" y="403" textLength="38" lengthAdjust="spacingAndGlyphs">0.057519</text>
<text x="1153" y="401" textLength="33" lengthAdjust="spacingAndGlyphs">0.08023</text>
<text x="1153" y="448" textLength="18" lengthAdjust="spacingAndGlyphs">0.00</text>
<text x="1152.5" y="453" textLength="42" lengthAdjust="spacingAndGlyphs">-0.017168</text>
<g shape-rendering="crispEdges">
<path d="M4,480.5H1149M4,506.5H1149" stroke="#c0c0c0" stroke-width="1" stroke-dasharray="3,3" fill="none"/>
<polyline fill="none" stroke="#1e90ff" stroke-width="1" points="3.5,493.4 11.5,497.0 19.5,501.9 27.5,500.8 35.5,499.8 43.5,499.8 51.5,498.8 59.5,502.2 67.5,506.9 75.5,495.9 83.5,495.8 91.5,497.1 99.5,497.1 107.5,495.8 115.5,494.6 123.5,492.9 131.5,492.9 139.5,495.8 147.5,495.8 155.5,495.8 163.5,495.8 171.5,496.8 179.5,496.8 187.5,498.8 195.5,494.6 203.5,498.5 211.5,497.1 219.5,494.6 227.5,494.6 235.5,487.9 243.5,491.7 251.5,492.9 259.5,494.1 267.5,499.6 275.5,499.6 283.5,501.8 291.5,503.8 299.5,498.8 307.5,501.8 315.5,503.0 323.5,504.7 331.5,506.9 339.5,508.0 347.5,504.7 355.5,490.7 363.5,490.7 371.5,489.6 379.5,490.7 387.5,495.8 395.5,498.0 403.5,494.5 411.5,493.8 419.5,491.7 427.5,493.8 435.5,492.9 443.5,491.7 451.5,495.8 459.5,501.8 467.5,503.8 475.5,503.0 483.5,504.7 491.5,503.8 499.5,504.7 507.5,506.9 515.5,503.0 523.5,505.9 531.5,504.7 539.5,501.8 547.5,499.6 555.5,499.6 563.5,498.0 571.5,498.8 579.5,498.8 587.5,499.6 595.5,498.0 603.5,484.0 611.5,477.8 619.5,482.0 627.5,489.1 635.5,489.1 643.5,487.0 651.5,487.0 659.5,485.7 667.5,482.8 675.5,485.7 683.5,485.7 691.5,485.7 699.5,489.6 707.5,493.8 715.5,496.3 723.5,492.1 731.5,490.1 739.5,489.1 747.5,494.1 755.5,494.1 763.5,492.1 771.5,487.0 779.5,490.7 787.5,492.1 795.5,487.9 803.5,490.0 811.5,490.7 819.5,484.0 827.5,478.7 835.5,475.6 843.5,472.8 851.5,470.6 859.5,469.9 867.5,469.9 875.5,467.7 883.5,471.9 891.5,469.9 899.5,475.6 907.5,475.6"/>
</g>
<text x="7.5" y="471" textLength="30.5" lengthAdjust="spacingAndGlyphs">RSI(14)</text>
<text x="41" y="471" textLength="34" lengthAdjust="spacingAndGlyphs">77.0203</text>
<text x="1153.5" y="469" textLength="14.5" lengthAdjust="spacingAndGlyphs">100</text>
<text x="1152.8" y="484" textLength="9.5" lengthAdjust="spacingAndGlyphs">70</text>
<text x="1152.8" y="510" textLength="9.5" lengthAdjust="spacingAndGlyphs">30</text>
<text x="1153.5" y="524" textLength="4.8" lengthAdjust="spacingAndGlyphs">0</text>
<text x="2.5" y="540" textLength="53.5" lengthAdjust="spacingAndGlyphs">26 Nov 2021</text>
<text x="67.0" y="540" textLength="46.5" lengthAdjust="spacingAndGlyphs">8 Dec 2021</text>
<text x="131.0" y="540" textLength="50.5" lengthAdjust="spacingAndGlyphs">20 Dec 2021</text>
<text x="195.0" y="540" textLength="50.5" lengthAdjust="spacingAndGlyphs">30 Dec 2021</text>
<text x="259.0" y="540" textLength="48" lengthAdjust="spacingAndGlyphs">11 Jan 2022</text>
<text x="323.0" y="540" textLength="49" lengthAdjust="spacingAndGlyphs">21 Jan 2022</text>
<text x="387.0" y="540" textLength="45" lengthAdjust="spacingAndGlyphs">2 Feb 2022</text>
<text x="451.0" y="540" textLength="51" lengthAdjust="spacingAndGlyphs">14 Feb 2022</text>
<text x="515.0" y="540" textLength="51" lengthAdjust="spacingAndGlyphs">24 Feb 2022</text>
<text x="579.0" y="540" textLength="46" lengthAdjust="spacingAndGlyphs">8 Mar 2022</text>
<text x="643.0" y="540" textLength="50.5" lengthAdjust="spacingAndGlyphs">18 Mar 2022</text>
<text x="707.0" y="540" textLength="51" lengthAdjust="spacingAndGlyphs">30 Mar 2022</text>
<text x="771.0" y="540" textLength="49" lengthAdjust="spacingAndGlyphs">11 Apr 2022</text>
<text x="835.0" y="540" textLength="50" lengthAdjust="spacingAndGlyphs">21 Apr 2022</text>
<text x="899.0" y="540" textLength="48.5" lengthAdjust="spacingAndGlyphs">3 May 2022</text>
<g shape-rendering="crispEdges">
<rect x="0" y="548" width="1191" height="1" fill="#dcdcdc"/>
<rect x="0" y="550" width="1191" height="1" fill="#000"/>
<rect x="0" y="551" width="1191" height="19" fill="#f0f0f0"/>
<rect x="0" y="570" width="1191" height="2" fill="#fbfbfb"/>
<rect x="0" y="572" width="1191" height="2" fill="#f2f2f2"/>
<rect x="536" y="550" width="112" height="19" fill="#000"/>
<rect x="537" y="550" width="110" height="18" fill="#fff"/>
<rect x="104" y="553" width="1" height="14" fill="#5c5c5c"/>
<rect x="212" y="553" width="1" height="14" fill="#5c5c5c"/>
<rect x="320" y="553" width="1" height="14" fill="#5c5c5c"/>
<rect x="428" y="553" width="1" height="14" fill="#5c5c5c"/>
<rect x="744" y="553" width="1" height="14" fill="#5c5c5c"/>
<rect x="824" y="553" width="1" height="14" fill="#5c5c5c"/>
<rect x="924" y="553" width="1" height="14" fill="#5c5c5c"/>
<rect x="1008" y="553" width="1" height="14" fill="#5c5c5c"/>
<rect x="1088" y="553" width="1" height="14" fill="#5c5c5c"/>
</g>
<text x="15.5" y="565" class="tab" textLength="77.5" lengthAdjust="spacingAndGlyphs">USDX,Weekly</text>
<text x="115.5" y="565" class="tab" textLength="85" lengthAdjust="spacingAndGlyphs">EURUSD-,Daily</text>
<text x="222" y="565" class="tab" textLength="87" lengthAdjust="spacingAndGlyphs">AUDUSD-,Daily</text>
<text x="332.5" y="565" class="tab" textLength="84" lengthAdjust="spacingAndGlyphs">USDCHF-,Daily</text>
<text x="439.5" y="565" class="tab" textLength="85.5" lengthAdjust="spacingAndGlyphs">USDCAD-,Daily</text>
<text x="659" y="565" class="tab" textLength="74.5" lengthAdjust="spacingAndGlyphs">XAUUSD-,H4</text>
<text x="755.5" y="565" class="tab" textLength="57" lengthAdjust="spacingAndGlyphs">UKOil-,H4</text>
<text x="835.5" y="565" class="tab" textLength="77.5" lengthAdjust="spacingAndGlyphs">DJ30-,Weekly</text>
<text x="935" y="565" class="tab" textLength="62.5" lengthAdjust="spacingAndGlyphs">UK100-,H1</text>
<text x="1020" y="565" class="tab" textLength="56.5" lengthAdjust="spacingAndGlyphs">USOil-,H1</text>
<text x="1098.5" y="565" class="tab" textLength="54" lengthAdjust="spacingAndGlyphs">HK50-,H1</text>
<text x="548.5" y="565" class="tab" textLength="88" lengthAdjust="spacingAndGlyphs" style="fill:#000">USDCNH-,Daily</text>
<polygon points="1164.5,559 1168.5,556 1168.5,562" fill="#a0a0a0"/><polygon points="1187.5,559 1183,555.5 1183,562.5" fill="#000"/>
</svg></body></html>
